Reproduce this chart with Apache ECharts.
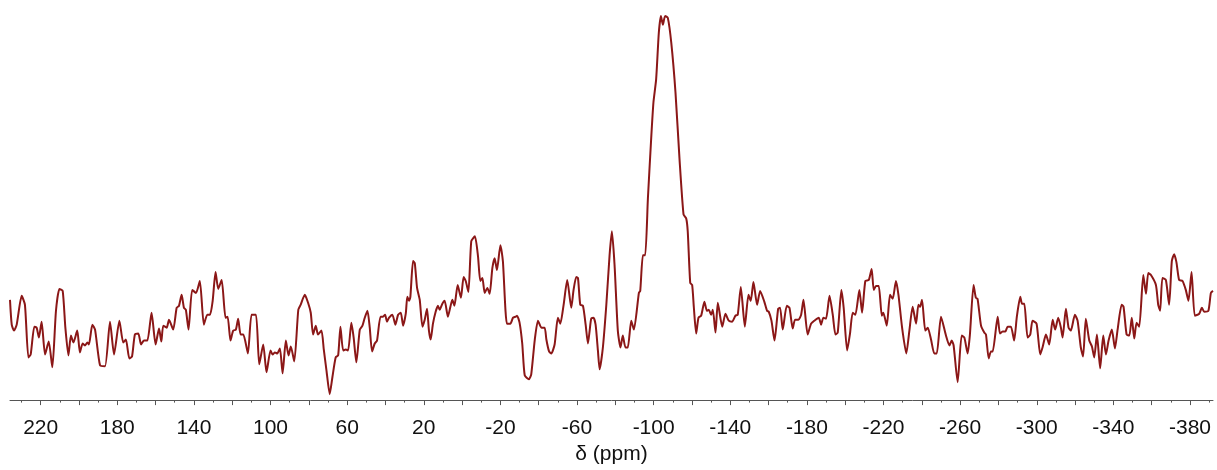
<!DOCTYPE html>
<html>
<head>
<meta charset="utf-8">
<title>NMR spectrum</title>
<script src="https://cdn.jsdelivr.net/npm/echarts@6/dist/echarts.min.js"></script>
<style>
  html, body { margin: 0; padding: 0; background: #fff; }
  #chart { width: 1217px; height: 470px; }
</style>
</head>
<body>
<div id="chart"></div>
<script>
  // chemical shift (ppm), intensity (arbitrary units)
  const downfield = [
    [236.0,101],[235.1,76],[233.9,70],[232.5,76],[229.9,105],[228.2,96],[226.4,43],[225.2,46],[223.3,74],[222.1,73],
    [220.9,63],[219.5,79],[217.7,46],[215.8,59],[213.9,33],[212.0,90],[210.2,112],[208.5,110],[207.1,73],[205.5,45],
    [204.2,65],[202.9,58],[200.9,70],[199.5,48],[198.1,57],[196.9,55],[195.6,58],[194.8,56],[193.0,76],[191.6,71],
    [189.0,35],[186.4,34],[183.8,79],[181.7,46],[178.9,80],[176.9,58],[175.5,61],[173.7,42],[172.3,44],[170.8,66],
    [169.0,67],[167.6,56],[166.1,60],[164.3,60],[162.1,88],[160.0,56],[158.2,72],[157.0,59],[156.0,75],[154.2,73],
    [153.0,81],[150.8,71],[149.0,93],[147.8,95],[146.4,106],[145.2,93],[144.2,91],[142.8,71],[140.9,111],[138.9,108],
    [136.9,120],[134.8,76],[133.0,86],[131.6,86],[130.2,100],[128.7,129],[127.3,112],[125.5,121],[123.5,83],[122.4,84],
    [120.9,60],[119.5,70],[118.1,71],[116.9,82],[115.6,66],[114.2,66],[111.8,47],[109.9,86],[107.6,86],[105.9,36],
    [103.8,56],[102.1,28],[100.0,50],[98.9,46],[97.7,48],[96.5,47],[95.1,52],[93.7,27],[92.0,60],[90.6,45],
    [89.4,54],[87.6,39],[85.5,91],[84.3,96]
  ]
  const middle = [
    [82.1,106],[80.4,98],[79.0,88],[77.8,66],[76.4,75],[75.2,66],[73.4,70],[72.2,51],[70.8,30],[69.1,6],
    [67.7,23],[66.0,43],[64.7,45],[63.5,74],[62.1,50],[60.7,51],[59.5,50],[57.8,78],[56.6,63],[55.2,38],
    [53.4,71],[52.0,75],[50.8,83],[49.4,90],[48.2,73],[47.0,49],[45.6,57],[44.4,60],[42.6,84],[41.3,84],
    [40.2,86],[39.2,79],[38.1,83],[36.4,86],[34.8,76],[33.4,86],[32.0,88],[30.8,75],[29.4,87],[28.6,104],
    [27.7,100],[27.0,104],[25.6,140],[24.7,138],[23.5,113],[22.1,101],[20.7,74],[19.5,81],[18.3,92],[17.3,70],
    [16.4,61],[15.2,77],[13.8,89],[12.6,95],[11.7,91],[10.3,97],[9.1,100],[7.4,84],[6.1,94],[5.1,101],
    [4.0,95],[2.3,116],[0.6,103],[-0.8,124],[-1.9,120],[-3.3,109],[-4.8,160],[-6.7,165],[-8.3,145],[-9.5,120],
    [-10.6,123],[-11.8,108],[-13.2,113],[-14.4,107],[-15.8,133],[-17.0,143],[-18.2,131],[-20.0,156],[-21.3,140],[-23.4,77],
    [-25.2,77],[-26.6,83],[-28.0,84],[-28.7,85],[-30.0,78],[-31.4,57],[-32.7,25],[-34.9,21],[-36.1,26],[-37.9,60],
    [-39.6,80],[-41.4,73],[-43.1,73],[-44.0,61],[-45.4,49],[-46.6,47],[-48.3,56],[-50.0,83],[-51.3,77],[-53.0,96],
    [-54.9,121],[-57.0,93],[-58.2,111],[-59.6,124],[-60.5,123],[-61.7,96],[-63.1,95],[-64.5,76],[-65.7,57],[-66.6,70],
    [-67.4,82],[-68.6,83],[-69.7,76],[-70.9,50],[-71.8,31],[-73.5,53],[-75.3,96],[-77.0,146]
  ]
  const mainPeak = [
    [-78.2,170],[-79.6,136],[-81.3,70],[-82.7,53],[-83.9,65],[-85.3,53],[-86.5,53],[-88.3,80],[-89.7,71],[-92.3,108],
    [-93.0,110],[-94.4,146],[-95.6,146],[-97.0,203],[-98.7,263],[-99.9,300],[-101.3,323],[-102.7,370],[-103.8,387],[-104.8,378],
    [-106.0,387],[-107.4,385],[-109.2,360],[-111.4,310],[-113.5,243],[-115.6,187],[-117.0,183],[-117.8,170],[-119.1,118],[-120.1,116],
    [-121.0,93],[-122.2,67],[-123.4,83],[-124.8,85],[-126.5,99],[-127.8,90],[-128.8,91],[-130.0,86],[-130.9,91],[-132.3,68],
    [-133.5,98]
  ]
  const upfield = [
    [-135.8,74],[-137.5,87],[-139.2,80],[-141.0,79],[-142.7,85],[-143.9,86],[-145.5,114],[-147.6,74],[-149.5,106],[-150.7,100],
    [-152.1,119],[-154.0,96],[-155.6,110],[-157.8,99],[-159.2,90],[-160.1,89],[-161.5,80],[-163.1,60],[-165.0,92],[-166.0,93],
    [-167.4,71],[-169.5,95],[-170.9,93],[-172.6,72],[-173.8,81],[-175.6,81],[-177.0,86],[-178.2,101],[-180.4,66],[-182.2,77],
    [-183.9,80],[-186.2,83],[-187.4,76],[-188.6,83],[-190.0,82],[-191.8,105],[-193.5,86],[-194.9,66],[-196.1,68],[-198.0,111],
    [-199.2,93],[-201.0,50],[-202.5,67],[-203.9,88],[-205.3,86],[-207.4,111],[-208.8,88],[-210.5,120],[-212.3,121],[-213.8,132],
    [-214.9,111],[-216.1,115],[-217.5,115],[-219.1,85],[-219.9,88],[-221.7,75],[-223.4,106],[-224.8,102],[-226.5,120],[-227.8,106],
    [-229.7,73],[-231.9,47],[-233.5,70],[-235.2,94],[-237.0,77],[-238.2,96],[-239.1,94],[-240.1,101],[-241.8,70],[-243.1,73],
    [-244.8,61],[-246.5,47],[-247.8,47],[-250.0,84],[-252.6,65],[-254.4,55]
  ]
  const farUpfield = [
    [-255.6,60],[-256.6,55],[-258.7,18],[-260.8,65],[-262.2,63],[-263.9,47],[-265.1,66],[-267.0,116],[-268.2,103],[-269.1,102],
    [-270.9,75],[-272.6,68],[-273.5,66],[-274.9,42],[-276.1,49],[-277.0,49],[-279.6,84],[-280.8,67],[-282.2,69],[-283.6,69],
    [-284.8,74],[-286.5,74],[-288.2,60],[-289.6,84],[-291.4,104],[-292.3,97],[-293.5,97],[-295.2,63],[-296.6,66],[-297.8,80],
    [-299.9,77],[-301.8,46],[-303.0,53],[-304.8,66],[-306.5,56],[-308.3,81],[-309.6,71],[-311.2,83],[-312.6,73],[-313.5,63],
    [-315.2,92],[-316.6,73],[-317.8,70],[-319.9,86],[-321.3,80],[-323.0,53],[-324.2,44],[-325.6,82],[-327.4,60],[-328.8,54],
    [-330.0,43],[-331.4,66],[-333.1,32],[-334.7,65],[-336.1,46],[-337.5,60],[-339.2,71],[-340.8,52],[-342.2,71],[-344.3,96],
    [-345.3,94],[-346.9,66],[-348.3,65],[-349.6,83],[-350.9,62],[-352.1,78],[-353.5,74],[-355.6,126],[-357.0,107],[-358.2,128],
    [-359.6,126],[-362.2,116],[-363.4,96],[-364.4,90],[-365.6,123],[-367.4,121],[-369.1,96],[-370.5,140],[-371.7,147],[-372.9,139],
    [-374.3,121],[-376.1,120],[-377.8,111],[-379.2,100],[-380.8,129],[-382.5,85],[-384.8,87],[-386.2,93],[-387.4,89],[-389.6,90],
    [-390.9,108],[-392.0,110]
  ]

  const tickLabels = [220, 180, 140, 100, 60, 20, -20, -60, -100, -140, -180, -220, -260, -300, -340, -380]
  const majorTicks = [220, 200, 180, 160, 140, 120, 100, 80, 60, 40, 20, 0, -20, -40, -60, -80, -100, -120, -140, -160,
    -180, -200, -220, -240, -260, -280, -300, -320, -340, -360, -380]
  const minorTicks = [230, 210, 190, 170, 150, 130, 110, 90, 70, 50, 30, 10, -10, -30, -50, -70, -90, -110, -130, -150,
    -170, -190, -210, -230, -250, -270, -290, -310, -330, -350, -370, -390]

  const spectrum = downfield.concat(middle, mainPeak, upfield, farUpfield)

  const axisColor = '#555'
  const font = "'Liberation Sans', Arial, sans-serif"

  const option = {
    animation: false,
    grid: { left: 10, right: 4, top: 0, bottom: 67 },
    xAxis: [
      {
        type: 'value',
        min: -392,
        max: 236,
        inverse: true,
        position: 'bottom',
        name: 'δ (ppm)',
        nameLocation: 'middle',
        nameGap: 41,
        nameTextStyle: { fontSize: 21, color: '#111', fontFamily: font },
        axisLine: { lineStyle: { color: axisColor, width: 1 } },
        axisTick: { customValues: majorTicks, length: 5, lineStyle: { color: axisColor } },
        axisLabel: { customValues: tickLabels, margin: 18, fontSize: 21, color: '#111', fontFamily: font },
        splitLine: { show: false }
      },
      {
        type: 'value',
        min: -392,
        max: 236,
        inverse: true,
        position: 'bottom',
        axisLine: { show: false },
        axisTick: { customValues: minorTicks, length: 2.5, lineStyle: { color: axisColor } },
        axisLabel: { show: false },
        splitLine: { show: false }
      }
    ],
    yAxis: { type: 'value', min: 0, max: 403, show: false },
    series: [
      {
        type: 'line',
        xAxisIndex: 0,
        data: spectrum,
        showSymbol: false,
        smooth: 0.2,
        lineStyle: { color: '#8b1717', width: 2 }
      }
    ]
  }

  const chart = echarts.init(document.getElementById('chart'))
  chart.setOption(option)
</script>
</body>
</html>
